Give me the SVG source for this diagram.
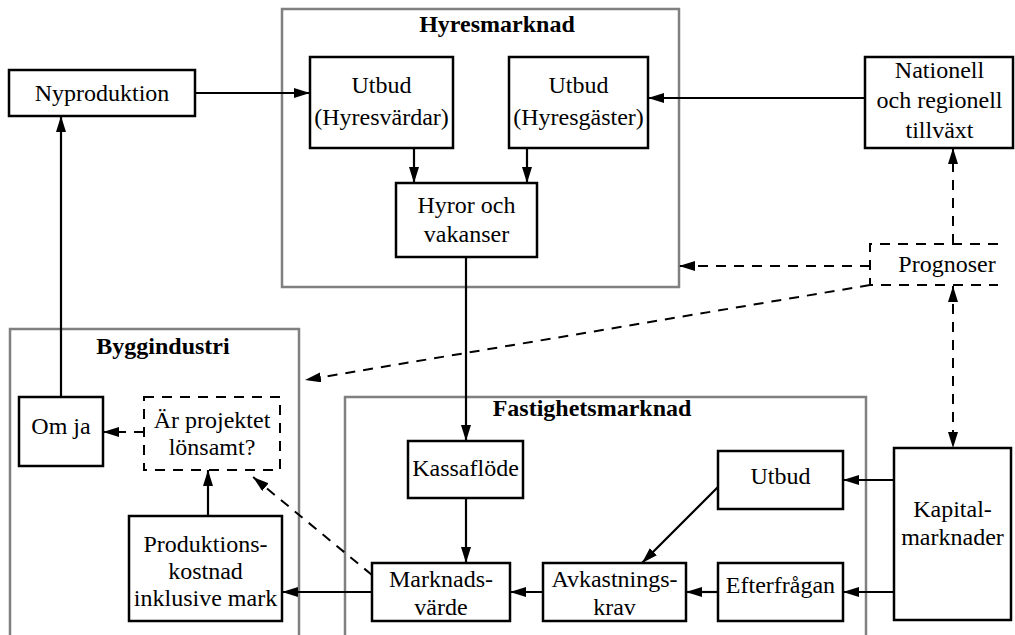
<svg xmlns="http://www.w3.org/2000/svg" width="1015" height="635" viewBox="0 0 1015 635">
<defs>
<style>
text{font-family:"Liberation Serif","Times New Roman",serif;font-size:24px;fill:#000;text-anchor:middle}
.t{font-weight:bold}
.box{fill:#fff;stroke:#000;stroke-width:2.5}
.dbox{fill:#fff;stroke:#000;stroke-width:2;stroke-dasharray:10 8}
.cont{fill:none;stroke:#808080;stroke-width:2.5}
.c{fill:none;stroke:#000;stroke-width:2.2}
.d{fill:none;stroke:#000;stroke-width:2;stroke-dasharray:10 8}
</style>
<marker id="ah" markerUnits="userSpaceOnUse" markerWidth="16" markerHeight="10" refX="16" refY="5" orient="auto">
<path d="M0,0 L16,5 L0,10 Z" fill="#000"/>
</marker>
<marker id="as" markerUnits="userSpaceOnUse" markerWidth="16" markerHeight="10" refX="0" refY="5" orient="auto">
<path d="M16,0 L0,5 L16,10 Z" fill="#000"/>
</marker>
</defs>
<rect width="1015" height="635" fill="#fff"/>
<g id="containers">
<rect class="cont" x="282" y="9" width="397" height="278"/>
<text class="t" x="497" y="32">Hyresmarknad</text>
<rect class="cont" x="10" y="329" width="289" height="320"/>
<text class="t" x="163" y="354">Byggindustri</text>
<rect class="cont" x="345" y="397" width="521" height="250"/>
<text class="t" x="592" y="416">Fastighetsmarknad</text>
</g>
<g id="connectors">
<path class="c" d="M195,93 H310" marker-end="url(#ah)"/>
<path class="c" d="M865,98 H648" marker-end="url(#ah)"/>
<path class="c" d="M414,148 V183" marker-end="url(#ah)"/>
<path class="c" d="M527,148 V183" marker-end="url(#ah)"/>
<path class="c" d="M466,257 V441" marker-end="url(#ah)"/>
<path class="c" d="M466,498 V563" marker-end="url(#ah)"/>
<path class="c" d="M718,487 L642,563" marker-end="url(#ah)"/>
<path class="c" d="M894,480 H843" marker-end="url(#ah)"/>
<path class="c" d="M894,592 H843" marker-end="url(#ah)"/>
<path class="c" d="M718,592 H686" marker-end="url(#ah)"/>
<path class="c" d="M543,592 H510" marker-end="url(#ah)"/>
<path class="c" d="M372,592 H282" marker-end="url(#ah)"/>
<path class="c" d="M208,516 V470" marker-end="url(#ah)"/>
<path class="c" d="M61,397 V116" marker-end="url(#ah)"/>
<path class="d" d="M144,432 H103" marker-end="url(#ah)"/>
<path class="d" d="M372,575 L253,477" marker-end="url(#ah)"/>
<path class="d" d="M953,244 V148" marker-end="url(#ah)"/>
<path class="d" d="M870,266 H679" marker-end="url(#ah)"/>
<path class="d" d="M870,285 L305,380" marker-end="url(#ah)"/>
<path class="d" d="M953,286 V448" marker-start="url(#as)" marker-end="url(#ah)"/>
</g>
<g id="nyproduktion">
<rect class="box" x="9" y="70" width="186" height="46"/>
<text x="102" y="101">Nyproduktion</text>
</g>
<g id="utbud-hyresvardar">
<rect class="box" x="310" y="57" width="143" height="91"/>
<text x="381.5" y="93">Utbud</text>
<text x="381.5" y="125">(Hyresvärdar)</text>
</g>
<g id="utbud-hyresgaster">
<rect class="box" x="509" y="57" width="139" height="91"/>
<text x="578.5" y="93">Utbud</text>
<text x="578.5" y="125">(Hyresgäster)</text>
</g>
<g id="hyror">
<rect class="box" x="396" y="183" width="141" height="74"/>
<text x="466.5" y="213">Hyror och</text>
<text x="466.5" y="242">vakanser</text>
</g>
<g id="nationell">
<rect class="box" x="865" y="57" width="148" height="91"/>
<text x="939.5" y="78">Nationell</text>
<text x="939.5" y="108">och regionell</text>
<text x="939.5" y="138">tillväxt</text>
</g>
<g id="prognoser">
<path class="d" d="M998,244 H870 V285 H998"/>
<text x="947" y="272">Prognoser</text>
</g>
<g id="om-ja">
<rect class="box" x="19" y="397" width="84" height="69"/>
<text x="61" y="434">Om ja</text>
</g>
<g id="lonsamt">
<rect class="dbox" x="144" y="397" width="136" height="73"/>
<text x="212" y="428">Är projektet</text>
<text x="212" y="455">lönsamt?</text>
</g>
<g id="produktionskostnad">
<rect class="box" x="129" y="516" width="153" height="105"/>
<text x="205.5" y="552">Produktions-</text>
<text x="205.5" y="579">kostnad</text>
<text x="205.5" y="606">inklusive mark</text>
</g>
<g id="kassaflode">
<rect class="box" x="408" y="441" width="115" height="57"/>
<text x="465.5" y="476">Kassaflöde</text>
</g>
<g id="marknadsvarde">
<rect class="box" x="372" y="563" width="138" height="58"/>
<text x="441" y="587">Marknads-</text>
<text x="441" y="615">värde</text>
</g>
<g id="avkastningskrav">
<rect class="box" x="543" y="563" width="143" height="58"/>
<text x="614.5" y="587">Avkastnings-</text>
<text x="614.5" y="615">krav</text>
</g>
<g id="utbud-fastighet">
<rect class="box" x="718" y="451" width="125" height="58"/>
<text x="780.5" y="484">Utbud</text>
</g>
<g id="efterfragan">
<rect class="box" x="718" y="563" width="125" height="58"/>
<text x="780.5" y="593">Efterfrågan</text>
</g>
<g id="kapitalmarknader">
<rect class="box" x="894" y="448" width="117" height="172"/>
<text x="952.5" y="517">Kapital-</text>
<text x="952.5" y="545">marknader</text>
</g>
</svg>
